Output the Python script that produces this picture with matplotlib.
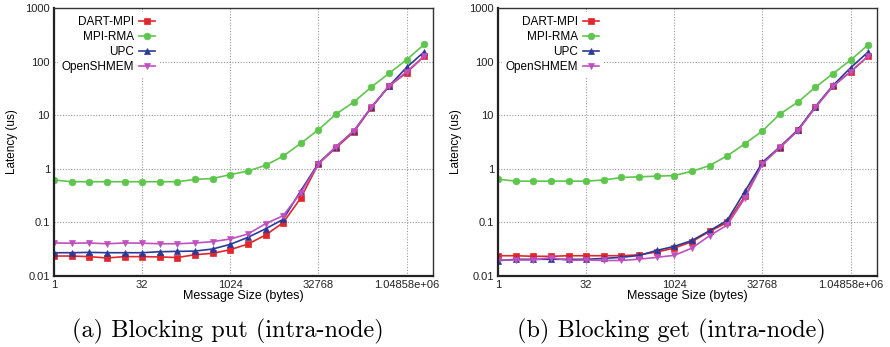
import numpy as np
import matplotlib
matplotlib.use("Agg")
import matplotlib.pyplot as plt
from matplotlib.ticker import FixedLocator, FixedFormatter, NullLocator

sizes = 2.0 ** np.arange(22)

# (a) blocking put
put_dart = [0.0236, 0.0236, 0.023, 0.0217, 0.023, 0.023, 0.0227, 0.0221, 0.025, 0.0265, 0.031,
            0.0395, 0.058, 0.099, 0.285, 1.25, 2.48, 4.86, 13.8, 35, 62, 127]
put_mpi = [0.62, 0.575, 0.575, 0.575, 0.575, 0.575, 0.575, 0.575, 0.635, 0.66, 0.78,
           0.91, 1.16, 1.73, 2.99, 5.37, 10.5, 17.6, 33.6, 60.4, 108.6, 210]
put_upc = [0.0272, 0.0272, 0.0276, 0.0272, 0.0272, 0.0272, 0.0284, 0.0288, 0.0292, 0.0319, 0.039,
           0.0526, 0.076, 0.114, 0.39, 1.27, 2.59, 5.07, 14.0, 35, 78, 153]
put_shm = [0.0413, 0.041, 0.0413, 0.040, 0.0413, 0.041, 0.040, 0.040, 0.0413, 0.0438, 0.049,
           0.0608, 0.0946, 0.1336, 0.359, 1.23, 2.59, 5.07, 14.0, 35, 65, 127]

# (b) blocking get
get_dart = [0.0239, 0.0239, 0.0233, 0.0233, 0.0239, 0.0239, 0.0239, 0.0239, 0.0249, 0.028, 0.0332,
            0.0437, 0.068, 0.1, 0.305, 1.26, 2.5, 5.2, 14, 35, 65, 127]
get_mpi = [0.64, 0.59, 0.59, 0.59, 0.59, 0.59, 0.62, 0.69, 0.71, 0.73, 0.75,
           0.90, 1.15, 1.75, 2.93, 5.1, 10.6, 17.5, 33.3, 59.7, 107, 207]
get_upc = [0.0193, 0.0205, 0.0205, 0.0205, 0.0205, 0.0205, 0.0213, 0.0223, 0.0242, 0.030, 0.0357,
           0.046, 0.070, 0.109, 0.378, 1.32, 2.6, 5.3, 14.5, 36, 77, 152]
get_shm = [0.0199, 0.0199, 0.0199, 0.022, 0.0195, 0.0199, 0.0195, 0.0195, 0.0206, 0.0223, 0.0243,
           0.0332, 0.0565, 0.089, 0.284, 1.23, 2.55, 5.1, 14, 35, 65, 127]

labels = ["DART-MPI", "MPI-RMA", "UPC", "OpenSHMEM"]
colors = ["#e3262b", "#5ec64c", "#2a3a98", "#c04fc0"]
markers = ["s", "o", "^", "v"]
msizes = [4.8, 4.8, 3.8, 3.8]

xticks = [1, 32, 1024, 32768, 1048576]
xticklabels = ["1", "32", "1024", "32768", "1.04858e+06"]
yticks = [0.01, 0.1, 1, 10, 100, 1000]
yticklabels = ["0.01", "0.1", "1", "10", "100", "1000"]
captions = ["(a) Blocking put (intra-node)", "(b) Blocking get (intra-node)"]

plt.rcParams['font.family'] = ['Liberation Sans', 'DejaVu Sans']

fig = plt.figure(figsize=(8.9, 3.47), dpi=100)
axes = [fig.add_axes([0.0607, 0.2046, 0.4258, 0.772]),
        fig.add_axes([0.5596, 0.2046, 0.4258, 0.772])]

panels = [[put_dart, put_mpi, put_upc, put_shm], [get_dart, get_mpi, get_upc, get_shm]]

for ax, data, cap in zip(axes, panels, captions):
    for vals, lab, c, mk, ms in zip(data, labels, colors, markers, msizes):
        ax.plot(sizes, vals, color=c, marker=mk, markersize=ms, lw=1.2, label=lab,
                markeredgewidth=0.5)
    ax.set_xscale("log", base=2)
    ax.set_yscale("log")
    ax.set_xlim(1, 2 ** 21.5)
    ax.set_ylim(0.01, 1000)
    ax.xaxis.set_major_locator(FixedLocator(xticks))
    ax.xaxis.set_major_formatter(FixedFormatter(xticklabels))
    ax.yaxis.set_major_locator(FixedLocator(yticks))
    ax.yaxis.set_major_formatter(FixedFormatter(yticklabels))
    ax.xaxis.set_minor_locator(NullLocator())
    ax.yaxis.set_minor_locator(NullLocator())
    ax.tick_params(length=0, labelsize=8, pad=3, colors="#222222")
    ax.grid(True, linestyle=(0, (1, 1.5)), color="#999999", lw=0.8)
    ax.set_axisbelow(True)
    for s in ["left", "bottom"]:
        ax.spines[s].set_linewidth(1.6)
        ax.spines[s].set_color("#222222")
    for s in ["top", "right"]:
        ax.spines[s].set_linewidth(1.0)
        ax.spines[s].set_color("#333333")
    ax.set_xlabel("Message Size (bytes)", fontsize=9, labelpad=0)
    ax.set_ylabel("Latency (us)", fontsize=8.5, labelpad=5)
    leg = ax.legend(loc="upper left", markerfirst=False, frameon=True, fontsize=8.5,
                    handlelength=1.4, handletextpad=0.4, labelspacing=0.25,
                    borderaxespad=0.3, borderpad=0.35, bbox_to_anchor=(0.0, 1.0))
    leg.get_frame().set_edgecolor("none")
    leg.get_frame().set_facecolor("white")
    leg.get_frame().set_alpha(1.0)
    ax.text(0.458, -0.228, cap, transform=ax.transAxes, ha="center", va="baseline",
            fontsize=17.5, family="cmr10")

fig.savefig("out.png", dpi=100)
